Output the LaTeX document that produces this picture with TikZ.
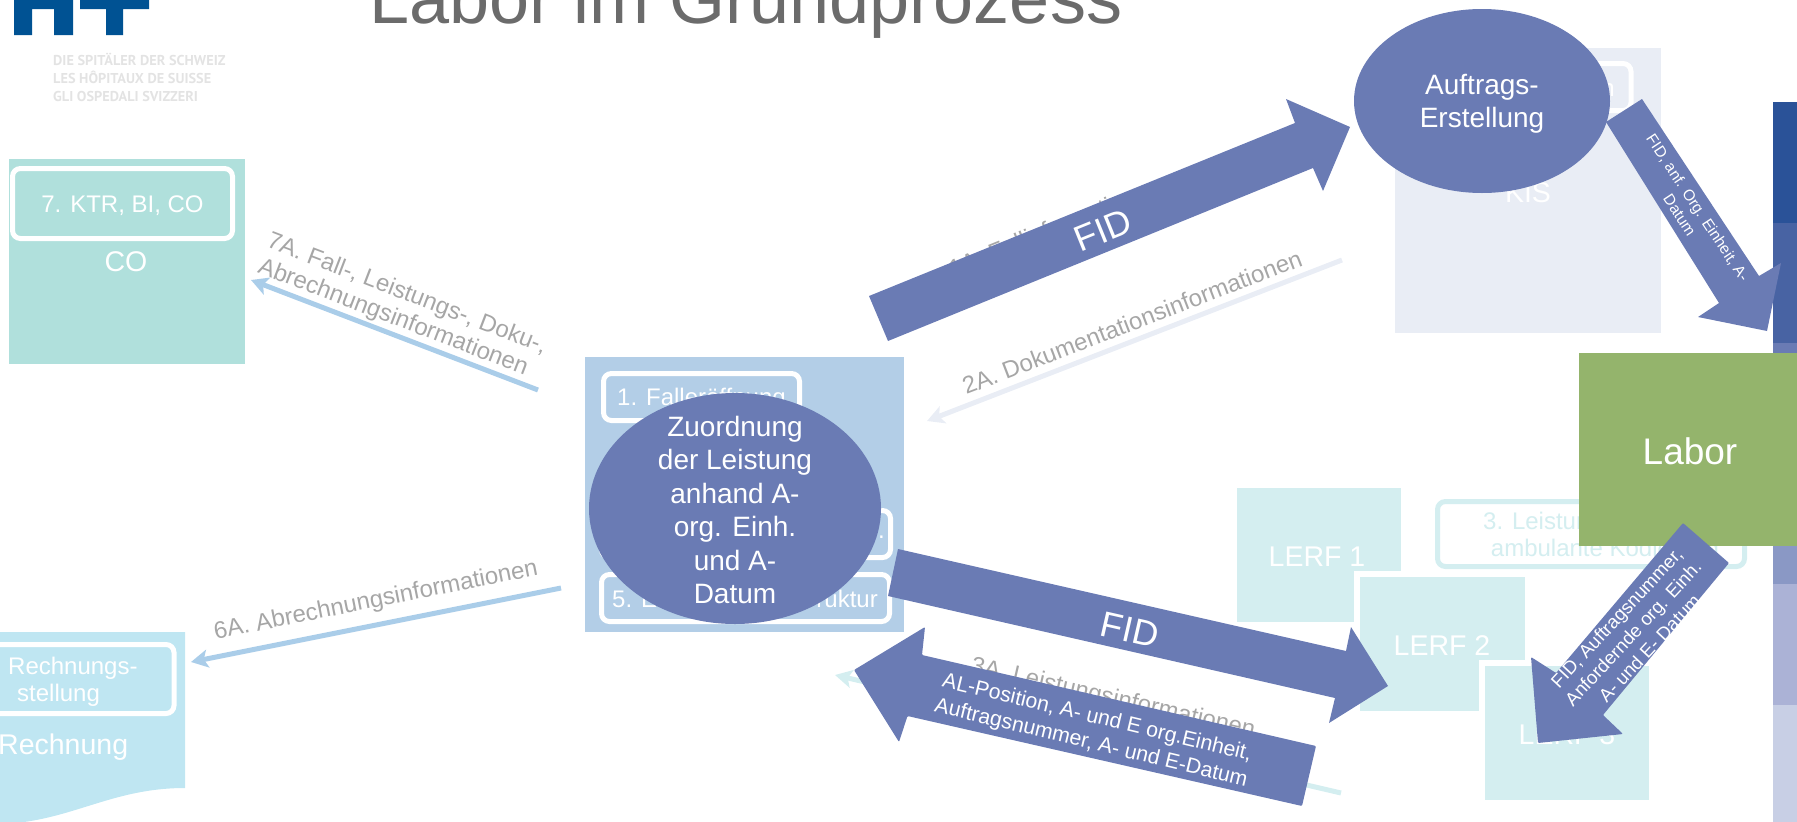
\documentclass[tikz,border=0pt]{standalone}
\usepackage{fontspec}
\setmainfont{Liberation Sans}
\newfontfamily\logofont{PT Sans}
\usetikzlibrary{shapes.geometric}
\usetikzlibrary{arrows.meta}
\definecolor{hplus}{HTML}{005293}
\definecolor{titlegrey}{HTML}{6B6B6B}
\definecolor{labelgrey}{HTML}{A6A6A6}
\definecolor{logogrey}{HTML}{E3E3E3}
\definecolor{flowblue}{HTML}{6A7BB4}
\definecolor{cobox}{HTML}{B0E0DC}
\definecolor{rechbox}{HTML}{BFE6F2}
\definecolor{kisbox}{HTML}{E9EDF5}
\definecolor{lerfbox}{HTML}{D4EEF0}
\definecolor{kernbox}{HTML}{B3CEE7}
\definecolor{thinblue}{HTML}{AACDE9}
\definecolor{labor}{HTML}{94B46C}
\tikzset{
	txt/.style={inner sep=0pt,align=center,font=\fontsize{24}{27}\selectfont},
	whitetxt/.style={txt,text=white},
	greytxt/.style={txt,text=labelgrey},
	boxtitle/.style={whitetxt,font=\fontsize{28.5}{33}\selectfont},
	bigtxt/.style={whitetxt,font=\fontsize{28}{33.5}\selectfont},
	rbox/.style={draw=white,line width=5pt,rounded corners=8pt},
	blockarrow/.style={fill=flowblue,rounded corners=1pt},
	thinarrow/.style={line width=5pt,-{Stealth[length=17pt,width=18pt,inset=4pt]}},
	bubble/.style={ellipse,fill=flowblue,inner sep=0pt}
}
\begin{document}
\begin{tikzpicture}[x=1pt,y=-1pt]
	\useasboundingbox (0,0) rectangle (1797,822);
	\clip (0,0) rectangle (1797,822);
	%LOGO AND TITLE
	\fill[hplus] (14,-2)--(73,-2)--(73,35)--(54,35)--(54,9)--(32,9)--(32,35)--(14,35)--cycle;
	\fill[hplus] (80,-2)--(149,-2)--(149,9)--(123,9)--(123,35)--(106,35)--(106,9)--(80,9)--cycle;
	\node[anchor=west,inner sep=0pt,text=logogrey,font=\logofont\bfseries\fontsize{14.3}{18}\selectfont,align=left] (logotext) at (53,77) {DIE SPITÄLER DER SCHWEIZ\\LES HÔPITAUX DE SUISSE\\GLI OSPEDALI SVIZZERI};
	\node[anchor=base,inner sep=0pt,text=titlegrey,font=\fontsize{72}{80}\selectfont] (title) at (746,23) {Labor im Grundprozess};
	%STRIPES AT RIGHT EDGE
	\fill[fill={rgb,255:red,42;green,82;blue,152}] (1773,102) rectangle (1797,223);
	\fill[fill={rgb,255:red,72;green,99;blue,163}] (1773,223) rectangle (1797,343);
	\fill[flowblue] (1773,343) rectangle (1797,464);
	\fill[fill={rgb,255:red,138;green,152;blue,197}] (1773,464) rectangle (1797,584);
	\fill[fill={rgb,255:red,171;green,178;blue,214}] (1773,584) rectangle (1797,705);
	\fill[fill={rgb,255:red,200;green,207;blue,229}] (1773,705) rectangle (1797,822);
	%CO
	\fill[cobox] (9,159) rectangle (245,364);
	\node[rbox,minimum width=220pt,minimum height=70pt] (ktrbox) at (122.5,203.5) {};
	\node[whitetxt] (ktr) at (122.5,206) {7. KTR, BI, CO};
	\node[boxtitle] (co) at (126,262) {CO};
	%RECHNUNG
	\fill[rechbox] (-10,632)--(185,632)--(185,788) .. controls (110,788) and (70,822) .. (0,824)--(-10,824)--cycle;
	\node[rbox,minimum width=200pt,minimum height=69pt] (stellungbox) at (74,679) {};
	\node[whitetxt,align=left,anchor=west,font=\fontsize{24}{27.5}\selectfont] (stellung) at (8,682) {Rechnungs-\\\hspace*{9pt}stellung};
	\node[boxtitle,anchor=west] (rechnung) at (-2,747) {Rechnung};
	%KIS
	\fill[kisbox] (1395,48) rectangle (1661,333);
	\node[rbox,minimum width=178pt,minimum height=47pt] (dokubox) at (1542,87) {};
	\node[whitetxt,anchor=east] (dokutxt) at (1615,90) {n};
	\node[boxtitle] (kis) at (1528,193) {KIS};
	%KERNPROZESS
	\fill[kernbox] (585,357) rectangle (904,632);
	\node[rbox,minimum width=196pt,minimum height=47pt] (fallbox) at (701.5,397) {};
	\node[whitetxt] (fall) at (701.5,399) {1. Falleröffnung};
	\node[rbox,minimum width=289pt,minimum height=47pt] (mitte) at (746,534) {};
	\node[whitetxt,anchor=east] (mittetxt) at (885,537) {..};
	\node[rbox,minimum width=288pt,minimum height=47pt] (struktur) at (745.5,598) {};
	\node[whitetxt,anchor=west] (struktura) at (612,599) {5. E};
	\node[whitetxt,anchor=east] (strukturb) at (878,599) {ruktur};
	%LERF
	\fill[lerfbox] (1237,488) rectangle (1401,622);
	\node[boxtitle] (lerfa) at (1317,557) {LERF 1};
	\draw[rbox,draw=lerfbox,fill=white] (1437.5,501.5) rectangle (1744.5,566.5);
	\node[txt,text=lerfbox] (leistung) at (1605,537) {3. Leistungserfassung,\\ambulante Kodierung};
	\fill[white] (1354,571) rectangle (1531,717);
	\fill[lerfbox] (1360,577) rectangle (1525,711);
	\node[boxtitle] (lerfb) at (1442,646) {LERF 2};
	\fill[white] (1479,660) rectangle (1655,806);
	\fill[lerfbox] (1485,666) rectangle (1649,800);
	\node[boxtitle] (lerfc) at (1567,735) {LERF 3};
	%THIN ARROWS
	\coordinate (sevenfrom) at (538,390);
	\coordinate (sevento) at (251,280);
	\coordinate (sixfrom) at (561,588);
	\coordinate (sixto) at (191,662);
	\coordinate (twofrom) at (1342,260);
	\coordinate (twoto) at (927,421);
	\coordinate (threefrom) at (1341,793);
	\coordinate (threeto) at (835,675);
	\draw[thinarrow,thinblue] (sevenfrom)--(sevento);
	\draw[thinarrow,thinblue] (sixfrom)--(sixto);
	\draw[thinarrow,kisbox] (twofrom)--(twoto);
	\draw[thinarrow,lerfbox] (threefrom)--(threeto);
	%ARROW CAPTIONS
	\node[greytxt,rotate=-21] (sevenA) at (402,307) {7A. Fall-, Leistungs-, Doku-,\\Abrechnungsinformationen\hspace*{9pt}};
	\node[greytxt,rotate=11.3] (sixA) at (376,601) {6A. Abrechnungsinformationen};
	\node[greytxt,rotate=21] (twoA) at (1132,322) {2A. Dokumentationsinformationen};
	\node[greytxt,rotate=22] (oneA) at (1055,227) {1A. Fallinformationen};
	\node[greytxt,rotate=-13] (threeA) at (1113,699) {3A. Leistungsinformationen};
	%LABOR
	\fill[labor] (1579,353) rectangle (1800,546);
	\node[whitetxt,font=\fontsize{37}{40}\selectfont] (labortxt) at (1690,451) {Labor};
	%BUBBLES
	\node[bubble,minimum width=256pt,minimum height=184pt] (auftrag) at (1482,101) {};
	\node[bigtxt] (auftragtxt) at (1482,104) {Auftrags-\\Erstellung};
	\node[bubble,minimum width=292pt,minimum height=231pt] (zuordnung) at (735,508.5) {};
	\node[bigtxt] (zuordnungtxt) at (735,510) {Zuordnung\\der Leistung\\anhand A-\\org. Einh.\\und A-\\Datum};
	%BLOCK ARROWS
	\fill[flowblue] (869,296)--(1295,123)--(1286,99)--(1350,127)--(1323,191)--(1313,168)--(888,341)--cycle;
	\node[whitetxt,rotate=22,font=\fontsize{36}{40}\selectfont] (fidtop) at (1103,230) {FID};
	\fill[flowblue] (898,549)--(1346,651)--(1351,627)--(1388,686)--(1329,723)--(1335,698)--(888,596)--cycle;
	\node[whitetxt,rotate=-12.8,font=\fontsize{36}{40}\selectfont] (fidmid) at (1130,630) {FID};
	\fill[flowblue] (1606,122)--(1642,99)--(1759,276)--(1781,263)--(1767,331)--(1698,317)--(1719,303)--cycle;
	\node[whitetxt,rotate=-56.5,font=\fontsize{15.5}{19}\selectfont] (fidanf) at (1690,213) {FID, anf. Org. Einheit, A-\\Datum\hspace*{8pt}};
	\fill[blockarrow] (1683,523)--(1729,563)--(1603,715)--(1623,734)--(1538,743)--(1531,657)--(1556,673)--cycle;
	\node[whitetxt,rotate=47,font=\fontsize{18.7}{22.5}\selectfont] (fidauftrag) at (1633,633) {FID, Auftragsnummer,\\Anfordernde org. Einh.\\A- und E- Datum};
	\fill[blockarrow] (854,670)--(925,627)--(922,655)--(1316,746)--(1302,806)--(907.5,716)--(899,742)--cycle;
	\node[whitetxt,rotate=-13.5,font=\fontsize{21.3}{26}\selectfont] (alpos) at (1094,731) {AL-Position, A- und E org.Einheit,\\Auftragsnummer, A- und E-Datum};
\end{tikzpicture}
\end{document}
